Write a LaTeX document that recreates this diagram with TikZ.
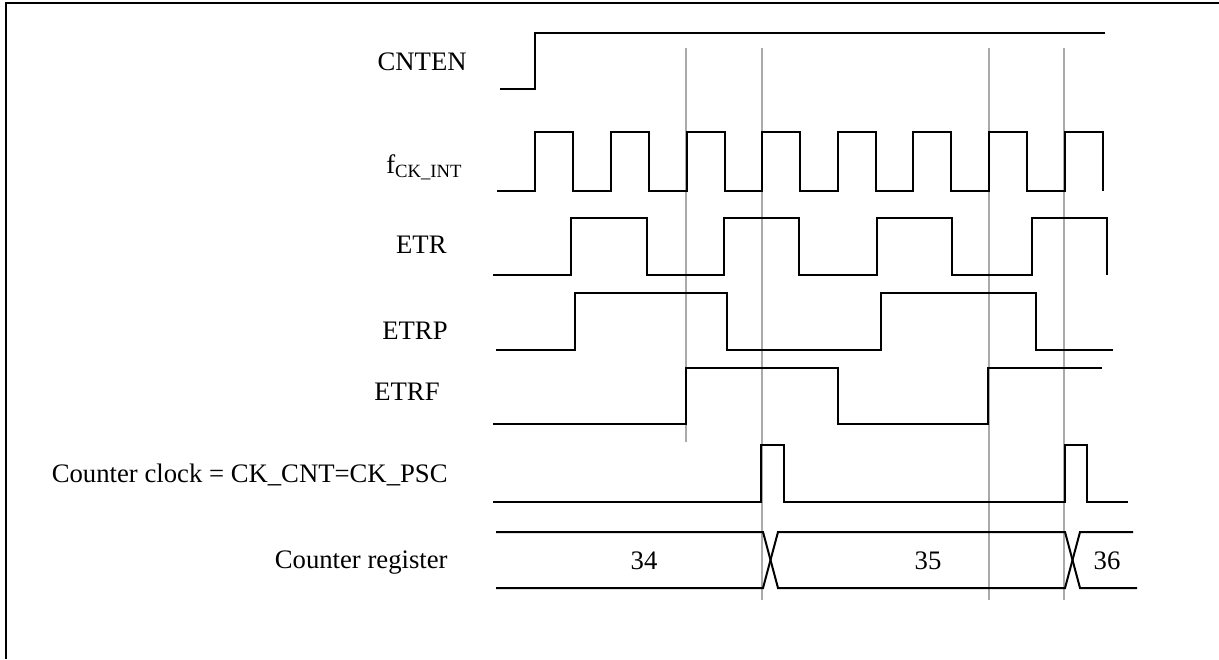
\documentclass[tikz,border=0pt]{standalone}
\usepackage{fontspec}
\setmainfont{Liberation Serif}
\usepackage{xcolor}
\usepackage{tikz}
\definecolor{guidegray}{RGB}{170,170,170}
\tikzset{
  sig/.style={black, line width=1pt},
  guide/.style={guidegray, line width=1pt},
  lbl/.style={anchor=base east, inner sep=0pt, font=\fontsize{13.35}{16}\selectfont},
  val/.style={inner sep=0pt, font=\fontsize{13.35}{16}\selectfont}
}

\begin{document}
\begin{tikzpicture}[x=0.5pt,y=-0.5pt]
\useasboundingbox (0,0) rectangle (1219,659);
% frame
\draw[line width=1.1pt] (6,659) -- (6,3) -- (1219,3);
% guides
\draw[guide] (686,48) -- (686,442);
\foreach \g in {762,989,1064}
  \draw[guide] (\g,48) -- (\g,600);
% labels
\node[lbl] (cnten) at (467,70) {CNTEN};
\node[lbl] (fck) at (463,173) {f\textsubscript{CK\_INT}};
\node[lbl] (etr) at (447,253) {ETR};
\node[lbl] (etrp) at (448,339) {ETRP};
\node[lbl] (etrf) at (440,400) {ETRF};
\node[lbl] (ckcnt) at (448,482) {Counter clock = CK\_CNT=CK\_PSC};
\node[lbl] (cntreg) at (448,568) {Counter register};
% waveforms
\draw[sig] (500,89) -| (535,32.5) -- (1105,32.5);
\draw[sig] (497,191) \foreach \r in {535,611,687,762,838,913,989,1065}{ -| (\r,132) -| (\r+38,191)};
\draw[sig] (493,275) -| (571,218) -| (647,275) -| (724,218) -| (799,275)
  -| (877,218) -| (952,275) -| (1032,218) -| (1107,275);
\draw[sig] (496,350) -| (575,293) -| (727,350) -| (881,293) -| (1036,350) -- (1113,350);
\draw[sig] (493,424) -| (686,368) -| (838,424) -| (988,368) -- (1102,368);
\draw[sig] (493,502) -| (761,445) -| (784,502) -| (1065,445) -| (1087,502) -- (1128,502);
% counter register
\draw[sig] (496,532) -- (763,532) -- (778,588) -- (1065,588) -- (1080,532) -- (1133,532);
\draw[sig] (496,588) -- (763,588) -- (778,532) -- (1065,532) -- (1080,588) -- (1137,588);
\node[val] (v34) at (644,561) {34};
\node[val] (v35) at (928,561) {35};
\node[val] (v36) at (1107,561) {36};
\end{tikzpicture}
\end{document}
